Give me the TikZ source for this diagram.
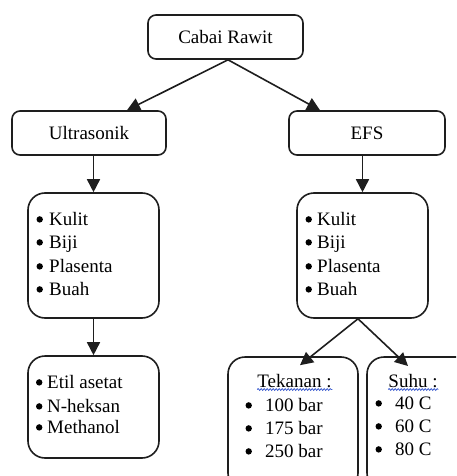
\documentclass[tikz,border=0pt]{standalone}
\usepackage{fontspec}
\setmainfont{Liberation Serif}
\usetikzlibrary{arrows.meta,calc,decorations.pathmorphing}
\definecolor{linec}{HTML}{1E1E1E}
\definecolor{spell}{HTML}{3F5FD0}
\newcommand\bul{\tikz[baseline=0pt,x=1pt,y=1pt]{\useasboundingbox (0,0) rectangle (7,9);\fill[black] (3.5,5.6) circle (3.2);}}
\begin{document}
\begin{tikzpicture}[x=1pt,y=-1pt,
  every node/.style={font=\fontsize{19}{23}\selectfont},
  box/.style={draw=linec,line width=1.6pt,rounded corners=8pt,inner sep=0pt,fill=white},
  listbox/.style={draw=linec,line width=1.6pt,rounded corners=17pt,inner sep=0pt},
  item/.style={anchor=base west,inner sep=0pt},
  arr/.style={draw=linec,line width=1.6pt,-{Triangle[length=13pt,width=13pt]}},
  wavy/.style={draw=spell,line width=0.8pt,decorate,decoration={snake,amplitude=0.9pt,segment length=3pt}}]
\useasboundingbox (0,0) rectangle (456,476);
\clip (0,0) rectangle (456,476);
% boxes
\node[box,minimum width=155pt,minimum height=44pt] (cabai) at (225.5,37) {Cabai Rawit};
\node[box,minimum width=154pt,minimum height=44pt] (ultra) at (89,133) {Ultrasonik};
\node[box,minimum width=156pt,minimum height=44pt] (efs) at (367,133) {EFS};
\node[listbox,minimum width=131pt,minimum height=125pt] (list1) at (93.5,255.5) {};
\node[listbox,minimum width=131pt,minimum height=125pt] (list2) at (362.5,255.5) {};
\node[listbox,minimum width=131pt,minimum height=102pt] (solv) at (93.5,407) {};
\node[listbox,minimum width=130pt,minimum height=133pt] (tek) at (293,423.5) {};
\node[listbox,minimum width=123pt,minimum height=133pt] (suhu) at (428.5,423.5) {};
% list 1
\node[item] (l1a) at (36,225) {\makebox[13pt][l]{\bul}Kulit};
\node[item] (l1b) at (36,248) {\makebox[13pt][l]{\bul}Biji};
\node[item] (l1c) at (36,272) {\makebox[13pt][l]{\bul}Plasenta};
\node[item] (l1d) at (36,295) {\makebox[13pt][l]{\bul}Buah};
% list 2
\node[item] (l2a) at (305,225) {\makebox[12pt][l]{\bul}Kulit};
\node[item] (l2b) at (305,248) {\makebox[12pt][l]{\bul}Biji};
\node[item] (l2c) at (305,272) {\makebox[12pt][l]{\bul}Plasenta};
\node[item] (l2d) at (305,295) {\makebox[12pt][l]{\bul}Buah};
% solvents
\node[item] (s1) at (35.5,388) {\makebox[11.5pt][l]{\bul}Etil asetat};
\node[item] (s2) at (35.5,412) {\makebox[11.5pt][l]{\bul}N-heksan};
\node[item] (s3) at (35.5,433) {\makebox[11.5pt][l]{\bul}Methanol};
% tekanan
\node[anchor=base,inner sep=0pt] (tekt) at (294.5,387) {Tekanan :};
\draw[wavy] (tekt.base west)++(0,2.5) -- ++(75,0);
\node[item] (t1) at (245,411) {\makebox[20pt][l]{\bul}100 bar};
\node[item] (t2) at (245,434) {\makebox[20pt][l]{\bul}175 bar};
\node[item] (t3) at (245,457) {\makebox[20pt][l]{\bul}250 bar};
% suhu
\node[anchor=base,inner sep=0pt] (suhut) at (413,387) {Suhu :};
\draw[wavy] (suhut.base west)++(0,2.5) -- ++(50,0);
\node[item] (u1) at (375,409) {\makebox[20pt][l]{\bul}40 C};
\node[item] (u2) at (375,432) {\makebox[20pt][l]{\bul}60 C};
\node[item] (u3) at (375,455) {\makebox[20pt][l]{\bul}80 C};
% connectors
\draw[arr] ([xshift=2.5pt]cabai.south) -- ([xshift=38pt]ultra.north);
\draw[arr] ([xshift=2.5pt]cabai.south) -- ([xshift=-47pt]efs.north);
\draw[arr] (list1.north |- ultra.south) -- (list1.north);
\draw[arr] (list2.north |- efs.south) -- (list2.north);
\draw[arr] (list1.south) -- (solv.north);
\draw[arr] ([xshift=-4.5pt]list2.south) -- ([xshift=7pt,yshift=-9pt]tek.north);
\draw[arr] ([xshift=-4.5pt]list2.south) -- ([yshift=-9pt]408,357);
\end{tikzpicture}
\end{document}
